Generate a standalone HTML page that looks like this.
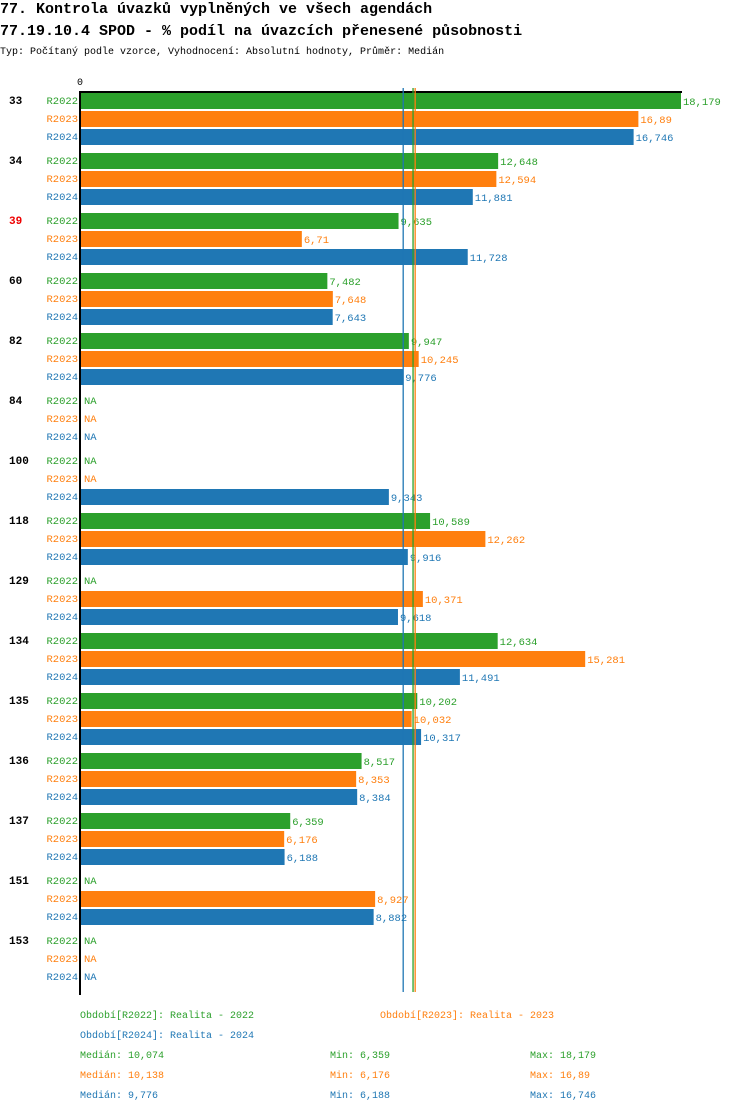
<!DOCTYPE html>
<html><head><meta charset="utf-8"><style>
body{margin:0;background:#fff;width:750px;height:1112px;overflow:hidden}
svg text{font-family:"Liberation Mono",monospace}
</style></head><body>
<svg id="c" width="750" height="1112">
<text x="0" y="13" font-size="15" font-weight="bold" fill="#000">77. Kontrola úvazků vyplněných ve všech agendách</text>
<text x="0" y="35" font-size="15" font-weight="bold" fill="#000">77.19.10.4 SPOD - % podíl na úvazcích přenesené působnosti</text>
<text x="0" y="54" font-size="10" fill="#000">Typ: Počítaný podle vzorce, Vyhodnocení: Absolutní hodnoty, Průměr: Medián</text>
<text x="80" y="85" font-size="10" text-anchor="middle" fill="#000">0</text>
<g id="bars"></g>
<line x1="80" y1="92" x2="682" y2="92" stroke="#000" stroke-width="2"/>
<line x1="80" y1="91" x2="80" y2="995" stroke="#000" stroke-width="2"/>
<g id="meds"></g>
<g font-size="10">
<text x="80" y="1018" fill="#2ca02c">Období[R2022]: Realita - 2022</text>
<text x="380" y="1018" fill="#ff7f0e">Období[R2023]: Realita - 2023</text>
<text x="80" y="1038" fill="#1f77b4">Období[R2024]: Realita - 2024</text>
<g id="stats"></g>
</g>
</svg>
<script>
const groups=["33","34","39","60","82","84","100","118","129","134","135","136","137","151","153"];
const r2022=[18.179,12.648,9.635,7.482,9.947,null,null,10.589,null,12.634,10.202,8.517,6.359,null,null];
const r2023=[16.89,12.594,6.71,7.648,10.245,null,null,12.262,10.371,15.281,10.032,8.353,6.176,8.927,null];
const r2024=[16.746,11.881,11.728,7.643,9.776,null,9.343,9.916,9.618,11.491,10.317,8.384,6.188,8.882,null];
const seriesNames=["R2022","R2023","R2024"];
const medians=[10.074,10.138,9.776];
const mins=[6.359,6.176,6.188];
const maxs=[18.179,16.89,16.746];
const colors=["#2ca02c","#ff7f0e","#1f77b4"];
const NS="http://www.w3.org/2000/svg";
const x=v=>80+v*33.06;
const rowY=(g,s)=>93+g*60+s*18;
const fmt=v=>String(v).replace('.',',');
function mk(tag,attrs,parent,text){const e=document.createElementNS(NS,tag);for(const k in attrs)e.setAttribute(k,attrs[k]);if(text!=null)e.textContent=text;parent.appendChild(e);return e;}
const bars=document.getElementById('bars');
const data=[r2022,r2023,r2024];
groups.forEach((g,gi)=>{
  const t=mk('text',{x:9,y:rowY(gi,0)+11,'font-size':11,'font-weight':'bold',fill:g==="39"?"#e00":"#000"},bars,g);
  
  
  data.forEach((arr,si)=>{
    const y=rowY(gi,si),v=arr[gi];
    const l=mk('text',{x:78,y:y+11,'font-size':10.5,'text-anchor':'end',fill:colors[si]},bars,seriesNames[si]);
    
    
    if(v==null){
      const n=mk('text',{x:84,y:y+11,'font-size':10.5,fill:colors[si]},bars,'NA');
      
      
    }else{
      const r=mk('rect',{x:80,y:y,width:x(v)-80,height:16,fill:colors[si]},bars);
      
      
      const vt=mk('text',{x:x(v)+2,y:y+12,'font-size':10.5,fill:colors[si]},bars,fmt(v));
      
      
    }
  });
});
const meds=document.getElementById('meds');
medians.forEach((m,i)=>{
  const l=mk('line',{x1:x(m),x2:x(m),y1:88,y2:992,stroke:colors[i],'stroke-width':1.3},meds);
  
  
});
const st=document.getElementById('stats');
[0,1,2].forEach(i=>{
  const y=1058+i*20;
  const a=mk('text',{x:80,y:y,fill:colors[i]},st,'Medián: '+fmt(medians[i]));
  
  
  const b=mk('text',{x:330,y:y,fill:colors[i]},st,'Min: '+fmt(mins[i]));
  
  
  const c=mk('text',{x:530,y:y,fill:colors[i]},st,'Max: '+fmt(maxs[i]));
  
  
});
</script>
</body></html>
